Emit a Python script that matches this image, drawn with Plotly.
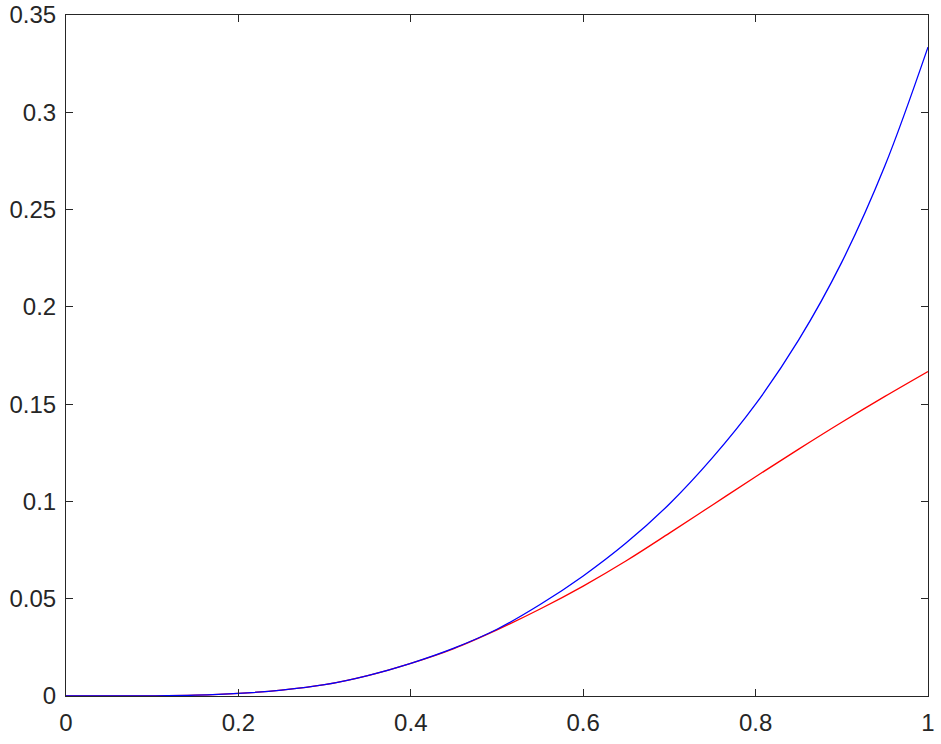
import plotly.graph_objects as go

# values
x_vals = [0, 0.1, 0.15, 0.2, 0.25, 0.3, 0.35, 0.4, 0.45, 0.5, 0.55, 0.6,
          0.65, 0.7, 0.75, 0.8, 0.85, 0.9, 0.95, 1.0]
blue_vals = [0, 0.0001, 0.0004, 0.0013, 0.0030, 0.0058, 0.0105, 0.0168, 0.0246,
             0.0343, 0.0470, 0.0617, 0.0787, 0.0987, 0.1225, 0.1500, 0.1830,
             0.2230, 0.2725, 0.3335]
red_vals = [0, 0.0001, 0.0004, 0.0013, 0.0030, 0.0058, 0.0105, 0.0168, 0.0244,
            0.0340, 0.0447, 0.0565, 0.0695, 0.0837, 0.0982, 0.1127, 0.1269,
            0.1407, 0.1540, 0.1668]

x_ticks = [0, 0.2, 0.4, 0.6, 0.8, 1]
x_labels = ['0', '0.2', '0.4', '0.6', '0.8', '1']
y_ticks = [0, 0.05, 0.1, 0.15, 0.2, 0.25, 0.3, 0.35]
y_labels = ['0', '0.05', '0.1', '0.15', '0.2', '0.25', '0.3', '0.35']

axis_col = '#262626'

fig = go.Figure()
fig.add_trace(go.Scatter(x=x_vals, y=red_vals, mode='lines',
                         line=dict(color='#ff0000', width=1.3, shape='spline', smoothing=1)))
fig.add_trace(go.Scatter(x=x_vals, y=blue_vals, mode='lines',
                         line=dict(color='#0000ff', width=1.3, shape='spline', smoothing=1)))

common = dict(showgrid=False, zeroline=False, showline=True, mirror='ticks',
              linecolor=axis_col, linewidth=1, ticks='inside', ticklen=7,
              tickcolor=axis_col, tickwidth=1,
              ticklabeloverflow='allow', automargin=False,
              tickfont=dict(family='Liberation Sans, Arial', size=24, color=axis_col))

fig.update_xaxes(range=[0, 1], tickvals=x_ticks, ticktext=x_labels,
                 ticklabelstandoff=5, **common)
fig.update_yaxes(range=[0, 0.35], tickvals=y_ticks, ticktext=y_labels,
                 ticklabelstandoff=4, **common)

fig.update_layout(
    width=941, height=744,
    margin=dict(l=66, r=13, t=15, b=48),
    plot_bgcolor='white', paper_bgcolor='white',
    showlegend=False,
)

# drop the default body margin so the figure fills the window exactly
fig.write_html("out.html", config={'displayModeBar': False},
               post_script="document.body.style.margin='0';document.body.style.overflow='hidden';")
